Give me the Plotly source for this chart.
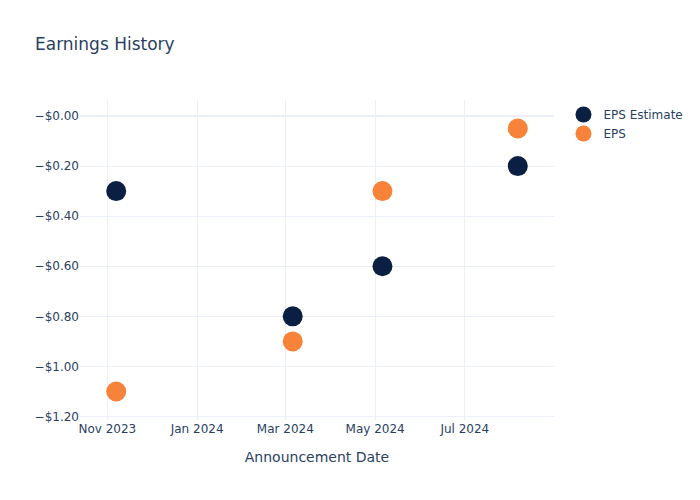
import plotly.graph_objects as go

dates = ["2023-11-07", "2024-03-06", "2024-05-06", "2024-08-06"]
eps_estimate = [-0.30, -0.80, -0.60, -0.20]
eps_actual = [-1.10, -0.90, -0.30, -0.05]

y_tick_vals = [-1.2, -1.0, -0.8, -0.6, -0.4, -0.2, 0.0]
y_tick_text = ["−$1.20", "−$1.00", "−$0.80", "−$0.60", "−$0.40", "−$0.20", "−$0.00"]

fig = go.Figure()
fig.add_trace(go.Scatter(x=dates, y=eps_estimate, mode="markers", name="EPS Estimate",
                         marker=dict(color="#0b1f42", size=20)))
fig.add_trace(go.Scatter(x=dates, y=eps_actual, mode="markers", name="EPS",
                         marker=dict(color="#f7823a", size=20)))
fig.update_layout(
    template="plotly_white",
    width=700, height=500,
    font=dict(family="DejaVu Sans"),
    title=dict(text="Earnings History"),
    xaxis=dict(title=dict(text="Announcement Date", standoff=17)),
    yaxis=dict(tickmode="array", tickvals=y_tick_vals, ticktext=y_tick_text),
)
fig.write_html("out.html")
